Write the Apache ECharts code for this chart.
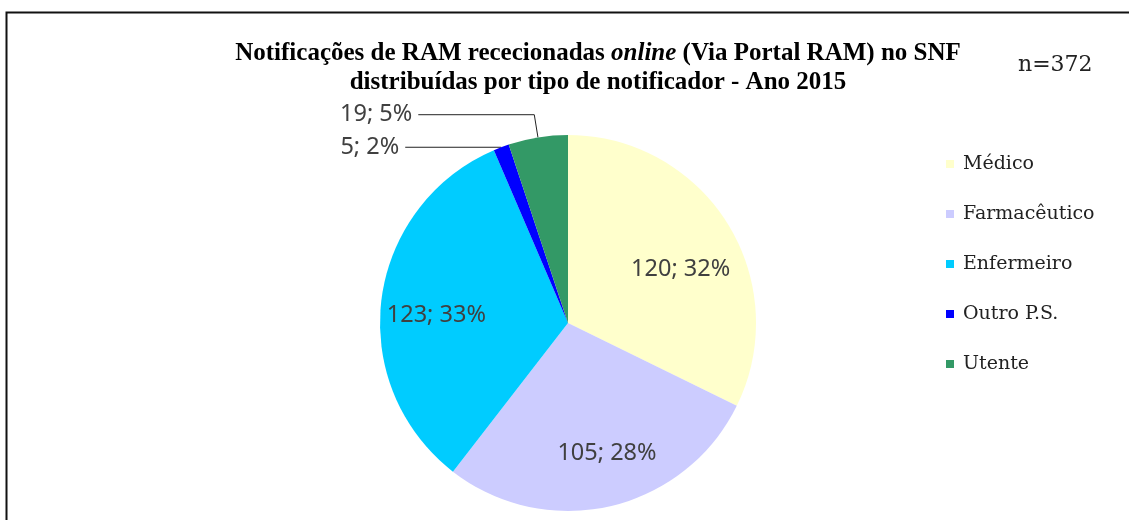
<!DOCTYPE html>
<html>
<head>
<meta charset="utf-8">
<script src="https://cdn.jsdelivr.net/npm/echarts@6/dist/echarts.min.js"></script>
<style>html,body{margin:0;padding:0;background:#fff}#chart{width:1129px;height:520px}</style>
</head>
<body>
<div id="chart"></div>
<script>
const categories = ['Médico', 'Farmacêutico', 'Enfermeiro', 'Outro P.S.', 'Utente'];
const values = [120, 105, 123, 5, 19];
const percents = [32, 28, 33, 2, 5];
const colors = ['#FFFFCC', '#CCCCFF', '#00CCFF', '#0000FF', '#339966'];
const labelPlacement = ['inside', 'inside', 'inside', 'outside', 'outside'];
const sampleSize = 'n=372';

const leaderLen = [0, 0, 0, 0, 23];
const leaderLen2 = [0, 0, 0, 96, 116];
const insideNudge = [[0, 17], [9, 1], [0, 9], [0, 0], [0, 0]];

const labelFont = { fontFamily: '"Noto Sans", sans-serif', fontSize: 23.5, color: '#404040' };
const labelText = (i) => values[i] + '; ' + percents[i] + '%';

const center = [568, 323];
const R = 188;

const mainData = categories.map((c, i) => ({
  name: c,
  value: values[i],
  itemStyle: { color: colors[i] },
  label: { show: labelPlacement[i] === 'outside' },
  labelLine: { show: labelPlacement[i] === 'outside', length: leaderLen[i], length2: leaderLen2[i] }
}));
const overlayData = categories.map((c, i) => ({
  name: c,
  value: values[i],
  itemStyle: { color: 'rgba(0,0,0,0)' },
  label: { show: labelPlacement[i] === 'inside' }
}));

const chart = echarts.init(document.getElementById('chart'), null, { renderer: 'canvas' });
chart.setOption({
  animation: false,
  backgroundColor: '#fff',
  title: [{
    left: 598, top: 39, padding: 0, textAlign: 'center',
    text: '{b|Notificações de RAM rececionadas }{i|online}{b| (Via Portal RAM) no SNF}\n{b|distribuídas por tipo de notificador - Ano 2015}',
    textStyle: {
      rich: {
        b: { fontFamily: '"Liberation Serif", serif', fontWeight: 'bold', fontSize: 25, color: '#000', lineHeight: 29 },
        i: { fontFamily: '"Liberation Serif", serif', fontWeight: 'bold', fontStyle: 'italic', fontSize: 25, color: '#000', lineHeight: 29 }
      }
    }
  }, {
    left: 1018, top: 54, padding: 0,
    text: sampleSize,
    textStyle: { fontFamily: '"DejaVu Serif", serif', fontWeight: 'normal', fontSize: 22, color: '#222' }
  }],
  legend: {
    orient: 'vertical', left: 946, top: 153, padding: 0,
    icon: 'rect', itemWidth: 8, itemHeight: 8, itemGap: 28,
    data: categories,
    textStyle: { fontFamily: '"DejaVu Serif", serif', fontSize: 19, color: '#222', lineHeight: 22, padding: [0, 0, 0, 4] }
  },
  graphic: [{
    type: 'polyline', silent: true,
    shape: { points: [[6.5, 520], [6.5, 12.5], [1129, 12.5]] },
    style: { stroke: '#111', lineWidth: 2, fill: null }
  }],
  series: [{
    type: 'pie', name: 'main', center: center, radius: R,
    startAngle: 90, clockwise: true, avoidLabelOverlap: false,
    emphasis: { disabled: true }, silent: true,
    label: { position: 'outside', formatter: (p) => labelText(p.dataIndex), ...labelFont, distanceToLabelLine: 6 },
    labelLine: { lineStyle: { color: '#222', width: 1 } },
    data: mainData
  }, {
    type: 'pie', name: 'labels', center: center, radius: [0.38 * R, R],
    startAngle: 90, clockwise: true, avoidLabelOverlap: false,
    emphasis: { disabled: true }, silent: true, z: 3,
    label: { position: 'inside', formatter: (p) => labelText(p.dataIndex), ...labelFont },
    labelLine: { show: false },
    labelLayout: (p) => ({ dx: insideNudge[p.dataIndex][0], dy: insideNudge[p.dataIndex][1] }),
    data: overlayData
  }]
});
</script>
</body>
</html>
